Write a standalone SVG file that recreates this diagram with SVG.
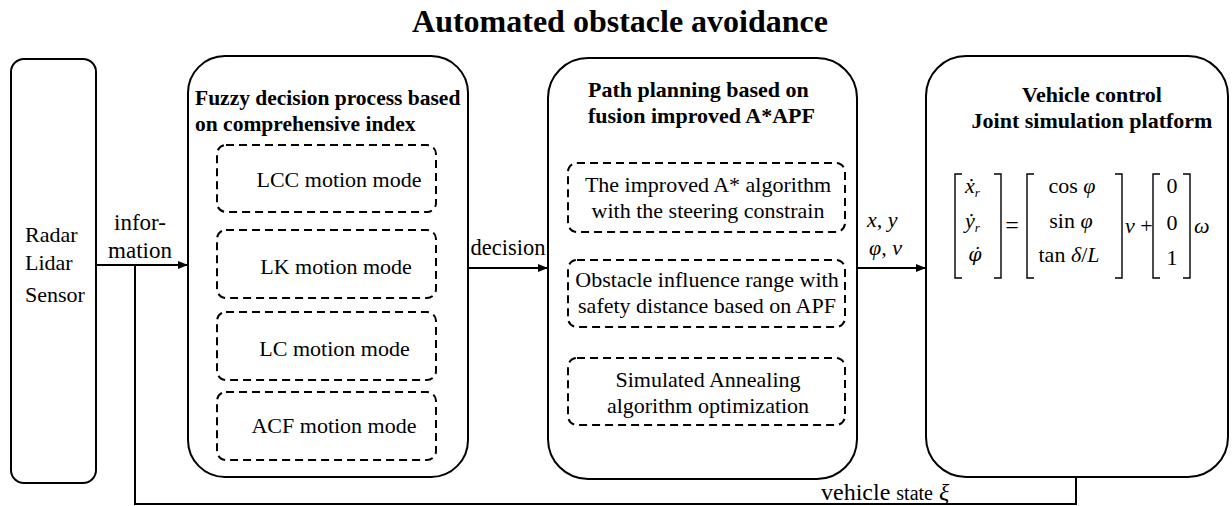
<svg xmlns="http://www.w3.org/2000/svg" width="1232" height="506" viewBox="0 0 1232 506">
<defs>
<style>
.b{font-weight:bold}
.i{font-style:italic}
.box{fill:none;stroke:#000;stroke-width:2}
.dash{fill:none;stroke:#000;stroke-width:2;stroke-dasharray:8 5}
.ln{fill:none;stroke:#000;stroke-width:2}
.br{fill:none;stroke:#000;stroke-width:1.4}
.t22{font-size:22px}
</style>
<marker id="ah" viewBox="0 0 10 10" refX="10" refY="5" markerWidth="10" markerHeight="10" markerUnits="userSpaceOnUse" orient="auto">
<path d="M0,1 L10,5 L0,9 Z" fill="#000"/>
</marker>
</defs>
<rect width="1232" height="506" fill="#fff"/>
<g font-family="Liberation Serif, Times New Roman, serif" fill="#000">
<text x="620" y="32" text-anchor="middle" class="b" font-size="32">Automated obstacle avoidance</text>

<g id="connectors">
<line class="ln" x1="96" y1="265" x2="188" y2="265" marker-end="url(#ah)"/>
<line class="ln" x1="468" y1="268" x2="548" y2="268" marker-end="url(#ah)"/>
<line class="ln" x1="857" y1="268" x2="926" y2="268" marker-end="url(#ah)"/>
<polyline class="ln" points="135,265 135,504 1076,504 1076,476"/>
<text x="140" y="230" text-anchor="middle" font-size="23">infor-</text>
<text x="140" y="258" text-anchor="middle" font-size="23">mation</text>
<text x="508" y="255" text-anchor="middle" font-size="22.5">decision</text>
<text x="867" y="227" class="i t22">x, y</text>
<text x="869" y="255" class="i t22">φ, v</text>
<text x="821" y="500" font-size="24">vehicle <tspan font-size="20">state</tspan> <tspan class="i" font-size="24">ξ</tspan></text>
</g>

<g id="sensor">
<rect class="box" x="11" y="59" width="85" height="424" rx="13"/>
<text x="25" y="242" class="t22">Radar</text>
<text x="25" y="270" class="t22">Lidar</text>
<text x="25" y="302" class="t22">Sensor</text>
</g>

<g id="fuzzy">
<rect class="box" x="188" y="56" width="280" height="421" rx="37"/>
<text x="195" y="105" class="b" font-size="21.5">Fuzzy decision process based</text>
<text x="195" y="131" class="b" font-size="21.5">on comprehensive index</text>
<rect class="dash" x="217" y="145" width="219" height="67" rx="9"/>
<text x="339" y="187" text-anchor="middle" class="t22">LCC motion mode</text>
<rect class="dash" x="217" y="230" width="219" height="68" rx="9"/>
<text x="336" y="274" text-anchor="middle" class="t22">LK motion mode</text>
<rect class="dash" x="217" y="312" width="219" height="68" rx="9"/>
<text x="334.5" y="356" text-anchor="middle" class="t22">LC motion mode</text>
<rect class="dash" x="217" y="392" width="219" height="68" rx="9"/>
<text x="334" y="433" text-anchor="middle" class="t22">ACF motion mode</text>
</g>

<g id="path-planning">
<rect class="box" x="548" y="58" width="309" height="421" rx="40"/>
<text x="588" y="97" class="b t22">Path planning based on</text>
<text x="588" y="123" class="b t22">fusion improved A*APF</text>
<rect class="dash" x="568" y="163" width="277" height="69" rx="9"/>
<text x="708" y="192" text-anchor="middle" class="t22">The improved A* algorithm</text>
<text x="708" y="218" text-anchor="middle" class="t22">with the steering constrain</text>
<rect class="dash" x="568" y="260" width="277" height="67" rx="9"/>
<text x="707" y="287" text-anchor="middle" class="t22">Obstacle influence range with</text>
<text x="707" y="313" text-anchor="middle" class="t22">safety distance based on APF</text>
<rect class="dash" x="568" y="358" width="277" height="67" rx="9"/>
<text x="708" y="387" text-anchor="middle" class="t22">Simulated Annealing</text>
<text x="708" y="413" text-anchor="middle" class="t22">algorithm optimization</text>
</g>

<g id="vehicle">
<rect class="box" x="926" y="56" width="302" height="421" rx="40"/>
<text x="1092" y="102" text-anchor="middle" class="b t22">Vehicle control</text>
<text x="1092" y="128" text-anchor="middle" class="b t22">Joint simulation platform</text>
<path class="br" d="M962,174 H955 V278 H962 M994,174 H1001 V278 H994"/>
<text x="965" y="193" class="i t22">ẋ<tspan font-size="13" dy="4">r</tspan></text>
<text x="965" y="228" class="i t22">ẏ<tspan font-size="13" dy="4">r</tspan></text>
<text x="975" y="261" text-anchor="middle" font-family="DejaVu Serif, serif" font-style="italic" font-size="19">φ̇</text>
<text x="1012" y="233" text-anchor="middle" font-size="24">=</text>
<path class="br" d="M1034,174 H1027 V278 H1034 M1115,174 H1122 V278 H1115"/>
<text x="1072" y="193" text-anchor="middle" class="t22">cos <tspan class="i">φ</tspan></text>
<text x="1071" y="228" text-anchor="middle" class="t22">sin <tspan class="i">φ</tspan></text>
<text x="1069" y="262" text-anchor="middle" class="t22">tan <tspan class="i">δ</tspan>/<tspan class="i">L</tspan></text>
<text x="1125" y="233" class="t22"><tspan class="i">v</tspan> +</text>
<path class="br" d="M1160,174 H1153 V278 H1160 M1183,174 H1190 V278 H1183"/>
<text x="1172" y="193" text-anchor="middle" class="t22">0</text>
<text x="1172" y="230" text-anchor="middle" class="t22">0</text>
<text x="1172" y="265" text-anchor="middle" class="t22">1</text>
<text x="1194" y="233" class="i t22">ω</text>
</g>
</g>
</svg>
